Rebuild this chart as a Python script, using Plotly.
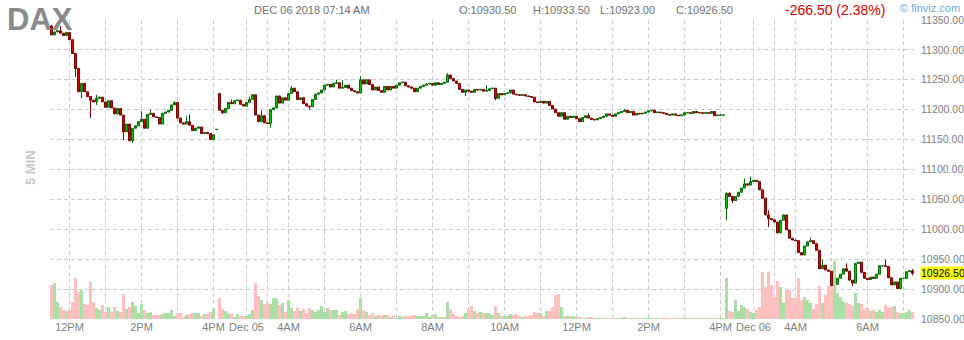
import plotly.graph_objects as go

# ---------------- data (5-min bars, index = bar number) ----------------
close_dec04 = [11325, 11330, 11332, 11328, 11324, 11329, 11317, 11294, 11269, 11230,
               11244, 11230, 11222, 11216, 11213, 11219, 11221, 11213, 11204, 11215,
               11203, 11193, 11202, 11191, 11163, 11176, 11148, 11169, 11173, 11180,
               11184, 11169, 11192, 11194, 11188, 11187, 11176, 11194, 11196, 11199,
               11208, 11212, 11186, 11178, 11176, 11180, 11174, 11165, 11169, 11171,
               11160, 11162, 11160, 11150, 11158, 11167]
close_dec05 = [11199, 11195, 11202, 11212, 11210, 11215, 11216, 11209, 11206, 11212,
               11217, 11225, 11191, 11180, 11190, 11178, 11177, 11200, 11203, 11223,
               11211, 11220, 11216, 11227, 11236, 11230, 11217, 11220, 11210, 11206,
               11205, 11217, 11226, 11228, 11233, 11241, 11242, 11238, 11244, 11245,
               11236, 11237, 11241, 11236, 11232, 11230, 11228, 11250, 11243, 11250,
               11242, 11233, 11238, 11232, 11229, 11239, 11233, 11239, 11236, 11241,
               11245, 11246, 11240, 11238, 11236, 11230, 11236, 11239, 11241, 11243,
               11244, 11241, 11245, 11242, 11244, 11246, 11258, 11252, 11248, 11244,
               11234, 11229, 11233, 11231, 11229, 11234, 11233, 11234, 11231, 11232,
               11235, 11236, 11219, 11227, 11225, 11227, 11228, 11233, 11226, 11225,
               11224, 11225, 11223, 11222, 11221, 11213, 11212, 11214, 11211, 11214,
               11207, 11201, 11195, 11189, 11195, 11184, 11189, 11187, 11189, 11185,
               11180, 11187, 11190, 11186, 11184, 11183, 11185, 11187, 11189, 11193,
               11191, 11189, 11193, 11195, 11197, 11199, 11195, 11197, 11191, 11194,
               11193, 11194, 11196, 11198, 11199, 11195, 11196, 11195, 11194, 11192,
               11191, 11193, 11191, 11190, 11191, 11195, 11195, 11194, 11197, 11195,
               11195, 11194, 11195, 11194, 11197, 11190, 11191, 11191, 11191]
close_dec06 = [11060, 11055, 11048, 11055, 11062, 11069, 11076, 11074, 11080, 11082,
               11080, 11066, 11052, 11024, 11018, 11016, 11012, 10994, 11015, 11024,
               10999, 10985, 10982, 10981, 10961, 10957, 10972, 10979, 10981, 10976,
               10965, 10934, 10940, 10932, 10930, 10896, 10908, 10918, 10925, 10934,
               10930, 10915, 10910, 10943, 10945, 10928, 10918, 10916, 10920, 10918,
               10925, 10939, 10939, 10938, 10919, 10907, 10912, 10901, 10918, 10918,
               10929, 10930.5, 10926.5]

# opens that differ from the previous close (session opens, doji)
open_overrides = {0: 11340, 55: 11167, 56: 11227, 225: 11035, 287: 10930.5}
# visible wicks
high_wicks = {0: 11342, 3: 11340, 11: 11245, 15: 11225, 30: 11197, 33: 11200, 41: 11214,
              45: 11189, 46: 11192, 55: 11168, 56: 11228, 60: 11217, 66: 11222, 70: 11199,
              80: 11240, 95: 11250, 97: 11249, 103: 11256, 132: 11261, 145: 11241,
              179: 11194, 191: 11201, 225: 11062, 226: 11062, 231: 11085, 233: 11088,
              239: 11032, 253: 10986, 257: 10949, 265: 10943, 278: 10949, 287: 10933.5}
low_wicks = {8: 11255, 10: 11219, 13: 11186, 15: 11208, 24: 11149, 27: 11144, 55: 11166,
             57: 11193, 73: 11170, 86: 11200, 138: 11223, 148: 11216, 225: 11015,
             227: 11044, 239: 11004, 260: 10889, 261: 10878, 267: 10905, 287: 10923}

# volume (contracts)
vol_dec04 = [34, 36, 17, 12, 9, 8, 9, 17, 41, 27, 29, 15, 14, 37, 17, 11, 9, 14, 7, 12,
             7, 12, 8, 7, 25, 10, 12, 17, 13, 6, 15, 9, 6, 7, 4, 4, 4, 5, 6, 6,
             9, 3, 6, 6, 2, 4, 5, 6, 6, 6, 3, 5, 5, 7, 11, 0]
vol_dec05 = [21, 10, 8, 6, 5, 2, 5, 3, 3, 3, 5, 9, 36, 23, 19, 15, 17, 15, 21, 21,
             14, 16, 7, 19, 11, 8, 11, 8, 10, 6, 11, 9, 7, 9, 13, 7, 11, 9, 9, 9,
             4, 7, 8, 5, 6, 5, 10, 21, 9, 7, 4, 6, 3, 4, 3, 4, 4, 2, 3, 1,
             3, 2, 3, 3, 3, 4, 3, 3, 3, 6, 2, 4, 5, 2, 2, 2, 17, 10, 5, 3,
             2, 3, 6, 10, 13, 8, 6, 7, 6, 6, 6, 4, 13, 6, 3, 3, 3, 5, 4, 5,
             3, 2, 3, 3, 4, 7, 6, 6, 3, 8, 8, 12, 24, 25, 12, 3, 3, 3, 3, 2,
             2, 1, 1, 2, 2, 1, 1, 1, 1, 1, 1, 1, 1, 1, 1, 2, 1, 1, 1, 1,
             1, 0.5, 0.5, 0.5, 0.5, 0.5, 0.5, 0.5, 0.5, 0.5, 0.5, 0.5, 0.5, 0.5, 0.5,
             0.5, 0.5, 0.5, 0.5, 0.5, 0.5, 0.5, 0.5, 1, 1, 1, 1, 1, 1]
vol_dec06 = [41, 8, 7, 19, 8, 14, 12, 10, 7, 6, 9, 12, 47, 32, 47, 34, 22, 38, 32, 16,
             29, 29, 21, 21, 41, 19, 22, 19, 16, 10, 15, 33, 16, 24, 33, 33, 58, 26, 22, 18,
             16, 15, 13, 26, 16, 15, 10, 11, 8, 9, 7, 9, 7, 14, 11, 12, 13, 7, 6, 6,
             7, 9, 7]
vol_dec04 = [v * 100 for v in vol_dec04]
vol_dec05 = [v * 100 for v in vol_dec05]
vol_dec06 = [v * 100 for v in vol_dec06]

# x-axis hourly grid and labels (bar index)
grid_pos = [6, 18, 30, 42, 54, 65, 72, 79, 91, 103, 115, 127, 139, 151, 163, 175,
            187, 199, 211, 223, 234, 241, 248, 260, 272, 284]
grid_text = ["12PM", "", "2PM", "", "4PM", "Dec 05", "", "4AM", "", "6AM", "", "8AM",
             "", "10AM", "", "12PM", "", "2PM", "", "4PM", "Dec 06", "", "4AM", "",
             "6AM", ""]
price_ticks = [10850, 10900, 10950, 11000, 11050, 11100, 11150, 11200, 11250, 11300, 11350]

# ---------------- build series ----------------
close = close_dec04 + close_dec05 + close_dec06
volume = vol_dec04 + vol_dec05 + vol_dec06
n = len(close)
idx = list(range(n))
opens = []
for i in range(n):
    opens.append(open_overrides.get(i, close[i - 1] if i > 0 else close[0]))
highs = [high_wicks.get(i, max(opens[i], close[i])) for i in range(n)]
lows = [low_wicks.get(i, min(opens[i], close[i])) for i in range(n)]
vcol = ["#aadfa5" if close[i] >= opens[i] else "#ffc0c0" for i in range(n)]

fig = go.Figure()
fig.add_trace(go.Bar(x=idx, y=volume, yaxis="y2", width=1.0,
                     marker=dict(color=vcol, line=dict(width=0)),
                     hoverinfo="skip", showlegend=False))
fig.add_trace(go.Candlestick(
    x=idx, open=opens, high=highs, low=lows, close=close,
    increasing=dict(line=dict(color="#006a00", width=1), fillcolor="#00d000"),
    decreasing=dict(line=dict(color="#7a0000", width=1), fillcolor="#e00000"),
    whiskerwidth=0, showlegend=False))

gridc = "#cccccc"
base = "Liberation Sans, Arial, sans-serif"
axfont = dict(family=base, size=11, color="#808080")
yfont = dict(family=base, size=10.5, color="#808080")

fig.update_layout(
    width=964, height=340,
    margin=dict(l=50, r=50, t=20, b=21, pad=0, autoexpand=False),
    paper_bgcolor="white", plot_bgcolor="white",
    showlegend=False, boxgap=0.05,
    xaxis=dict(range=[-0.5, n - 0.5], tickmode="array", tickvals=grid_pos, ticktext=grid_text,
               showgrid=True, gridcolor=gridc, griddash="4px,3px", gridwidth=1,
               zeroline=False, showline=False, ticks="", tickfont=axfont, automargin=False,
               rangeslider=dict(visible=False)),
    yaxis=dict(side="right", range=[price_ticks[0], price_ticks[-1]], tickmode="array",
               tickvals=price_ticks, tickformat=".2f", automargin=False,
               showgrid=True, gridcolor=gridc, griddash="4px,3px", gridwidth=1,
               zeroline=False, showline=False, ticks="", ticklabelstandoff=6,
               tickfont=yfont),
    yaxis2=dict(overlaying="y", range=[0, 29900], visible=False, showgrid=False,
                automargin=False),
)


def px(xp):
    return (xp - 50) / 864.0


def py(yp):
    return (319 - yp) / 299.0


anns = [
    dict(text="<b>DAX</b>", x=px(5), y=py(19), font=dict(family=base, size=31, color="#8a8a8a")),
    dict(text="DEC 06 2018 07:14 AM", x=px(252), y=py(10), font=dict(family=base, size=11, color="#707070")),
    dict(text="O:10930.50", x=px(457), y=py(10), font=dict(family=base, size=11, color="#707070")),
    dict(text="H:10933.50", x=px(531), y=py(10), font=dict(family=base, size=11, color="#707070")),
    dict(text="L:10923.00", x=px(598), y=py(10), font=dict(family=base, size=11, color="#707070")),
    dict(text="C:10926.50", x=px(674), y=py(10), font=dict(family=base, size=11, color="#707070")),
    dict(text="-266.50 (2.38%)", x=px(783), y=py(10), font=dict(family=base, size=14, color="#cc0000")),
    dict(text="© finviz.com", x=px(898), y=py(8), font=dict(family=base, size=11, color="#6fa8dc")),
]
for a in anns:
    fig.add_annotation(xref="paper", yref="paper", xanchor="left", yanchor="middle",
                       showarrow=False, **a)
fig.add_annotation(xref="paper", yref="paper", x=px(30), y=py(168), text="<b>5 MIN</b>",
                   textangle=-90, showarrow=False, xanchor="center", yanchor="middle",
                   font=dict(family=base, size=13, color="#c8c8c8"))
fig.add_annotation(xref="paper", yref="y", x=px(920), y=close[-1], text="10926.50",
                   xanchor="left", yanchor="middle", showarrow=False, bgcolor="#ffff00",
                   borderpad=0, font=dict(family=base, size=10.5, color="#000000"))

fig.write_html("out.html")
